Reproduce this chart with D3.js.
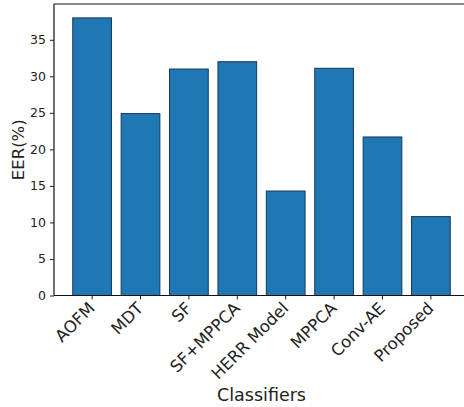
<!DOCTYPE html>
<html><head><meta charset="utf-8">
<script src="https://cdn.jsdelivr.net/npm/d3@7"></script>
<style>body{margin:0;background:#fff;} svg{display:block;}</style>
</head><body>
<svg id="c" width="464" height="407"></svg>
<script>
const categories = ["AOFM","MDT","SF","SF+MPPCA","HERR Model","MPPCA","Conv-AE","Proposed"];
const values = [38.0, 24.9, 31.0, 32.0, 14.3, 31.1, 21.7, 10.8];
const yTicks = [0,5,10,15,20,25,30,35];

(function(){
const svg = d3.select("#c");
const pL = 54, pR = 469, pT = 4, pB = 295.5;
const font = "DejaVu Sans, sans-serif";

const x = d3.scaleBand().domain(categories).range([pL, pR]).paddingInner(0.2).paddingOuter(0.3875);
const y = d3.scaleLinear().domain([0, 39.9]).range([pB, pT]);

svg.append("g").selectAll("rect").data(values).join("rect")
  .attr("x", (d,i) => x(categories[i]))
  .attr("width", x.bandwidth())
  .attr("y", d => y(d))
  .attr("height", d => y(0) - y(d))
  .attr("fill", "#1f77b4")
  .attr("stroke", "#123a5a")
  .attr("stroke-width", 1);

const ya = svg.append("g").attr("transform", `translate(${pL},0)`)
  .call(d3.axisLeft(y).tickValues(yTicks).tickSize(4).tickPadding(4));
ya.select(".domain").remove();
ya.selectAll("text").attr("font-family", font).attr("font-size", 12.5).attr("fill", "#222");
ya.selectAll("line").attr("stroke", "#222");

const xa = svg.append("g").attr("transform", `translate(0,${pB})`)
  .call(d3.axisBottom(x).tickSize(4).tickPadding(3));
xa.select(".domain").remove();
xa.selectAll("line").attr("stroke", "#222");
xa.selectAll("text")
  .attr("font-family", font).attr("font-size", 16.5).attr("fill", "#222")
  .attr("text-anchor", "end")
  .attr("transform", "translate(-5,5) rotate(-45)")
  .attr("dy", "0.75em").attr("y", 0).attr("x", 0);

const sp = (x1,y1,x2,y2) => svg.append("line").attr("x1",x1).attr("y1",y1).attr("x2",x2).attr("y2",y2).attr("stroke","#111").attr("stroke-width",1.2);
sp(pL,pT,pL,pB); sp(pL,pB,pR,pB); sp(pL,pT,pR,pT); sp(pR,pT,pR,pB);

svg.append("text").attr("x", (pL+pR)/2).attr("y", 401)
  .attr("text-anchor", "middle").attr("font-family", font).attr("font-size", 17.5).attr("fill", "#222")
  .text("Classifiers");
svg.append("text").attr("transform", `translate(24,${(pT+pB)/2}) rotate(-90)`)
  .attr("text-anchor", "middle").attr("font-family", font).attr("font-size", 16.5).attr("fill", "#222")
  .text("EER(%)");
})();
</script>
</body></html>
